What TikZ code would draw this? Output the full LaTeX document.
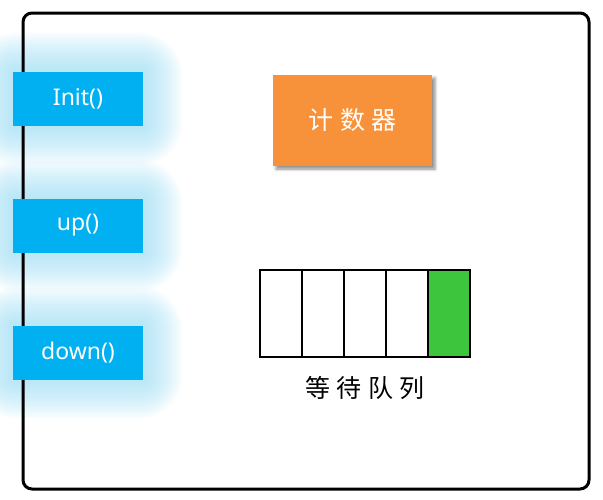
\documentclass[tikz,border=0pt]{standalone}
\usepackage{fontspec}
\setmainfont{Noto Sans}
\newfontfamily\cjk[LetterSpace=25]{Noto Sans CJK SC}
\usetikzlibrary{shadows.blur}
\definecolor{blueb}{RGB}{0,176,240}
\definecolor{glowc}{RGB}{150,218,243}
\definecolor{orangeb}{RGB}{247,146,58}
\definecolor{greenb}{RGB}{62,197,62}
\tikzset{
  fnbox/.style={fill=blueb, text=white, minimum width=130pt, minimum height=54pt, inner sep=0pt, font=\fontsize{23}{25}\selectfont},
  cell/.style={draw=black, line width=1.5pt, minimum width=42pt, minimum height=87pt, inner sep=0pt},
}
\newcommand{\glowbox}[4]{%
  \foreach \i in {1,...,22}{%
    \fill[glowc, opacity=0.048, rounded corners=\i*2pt]
      (#1-\i*1.8, #2-\i*1.8) rectangle (#3+\i*1.8, #4+\i*1.8);
  }}
\begin{document}
\begin{tikzpicture}[x=1pt,y=-1pt]
\useasboundingbox (0,0) rectangle (603,499);
\glowbox{13}{72}{143}{126}
\glowbox{13}{199}{143}{252}
\glowbox{13}{326}{143}{379}
\draw[line width=3pt, rounded corners=9pt] (23,13) rectangle (589,489);
\node[fnbox] (init) at (78,99) {Init()};
\node[fnbox] (up) at (78,225.5) {up()};
\node[fnbox] (down) at (78,352.5) {down()};
\node[fill=orangeb, text=white, minimum width=159pt, minimum height=91pt, inner sep=0pt,
  blur shadow={shadow xshift=3pt, shadow yshift=-3pt, shadow blur radius=3pt, shadow opacity=45},
  font=\fontsize{25}{27}\selectfont\cjk] (counter) at (352.5,120.5) {计数器};
\node[cell] (c1) at (281,313.5) {};
\node[cell] (c2) at (323,313.5) {};
\node[cell] (c3) at (365,313.5) {};
\node[cell] (c4) at (407,313.5) {};
\node[cell, fill=greenb] (c5) at (449,313.5) {};
\node[font=\fontsize{25}{27}\selectfont\cjk] (qlabel) at (365,388) {等待队列};
\end{tikzpicture}
\end{document}
